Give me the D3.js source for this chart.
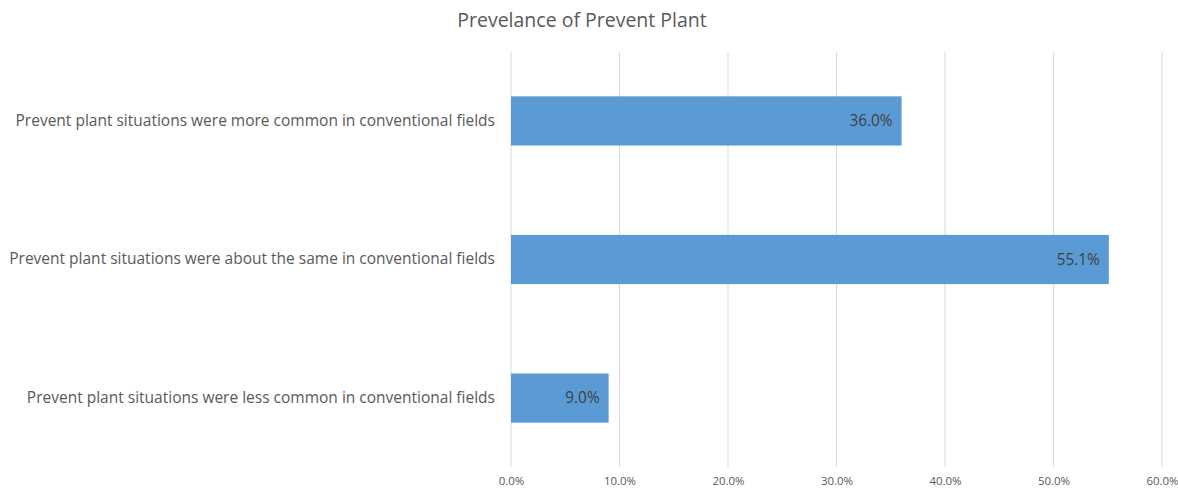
<!DOCTYPE html>
<html><head><meta charset="utf-8">
<script src="https://cdn.jsdelivr.net/npm/d3@7"></script>
<style>body{margin:0;background:#fff}svg{display:block}</style>
</head><body>
<svg id="c" width="1178" height="489"></svg>
<script>
const categories = [
  "Prevent plant situations were more common in conventional fields",
  "Prevent plant situations were about the same in conventional fields",
  "Prevent plant situations were less common in conventional fields"
];
const values = [36.0, 55.1, 9.0];
const tickValues = [0, 10, 20, 30, 40, 50, 60];
const title = "Prevelance of Prevent Plant";

const svg = d3.select("#c");
const font = "'Open Sans', sans-serif";
const m = {left: 511, right: 1162, top: 52, bottom: 467};
const x = d3.scaleLinear().domain([0, 60]).range([m.left, m.right]);
const y = d3.scaleBand().domain(categories).range([m.top, m.bottom]).paddingInner(0.645).paddingOuter(0.32);

svg.append("text").attr("x", 582).attr("y", 27).attr("text-anchor", "middle")
  .style("font-family", font).style("font-size", "19.5px").attr("fill", "#595959").text(title);

svg.append("g").selectAll("line").data(tickValues).join("line")
  .attr("x1", d => x(d)).attr("x2", d => x(d)).attr("y1", m.top).attr("y2", m.bottom)
  .attr("stroke", "#d9d9d9").attr("stroke-width", 1);

const xAxis = d3.axisBottom(x).tickValues(tickValues).tickFormat(d => d.toFixed(1) + "%").tickSize(0).tickPadding(0);
const gx = svg.append("g").attr("transform", `translate(0,${m.bottom + 10})`).call(xAxis);
gx.select(".domain").remove();
gx.selectAll("text").style("font-family", font).style("font-size", "11.5px").attr("fill", "#595959").attr("dy", "0.71em");

svg.append("g").selectAll("rect").data(values).join("rect")
  .attr("x", x(0)).attr("y", (d, i) => y(categories[i]))
  .attr("width", d => x(d) - x(0)).attr("height", y.bandwidth())
  .attr("fill", "#5b9bd5");

svg.append("g").selectAll("text").data(values).join("text")
  .attr("x", d => x(d) - 9).attr("y", (d, i) => y(categories[i]) + y.bandwidth() / 2)
  .attr("dy", "0.35em").attr("text-anchor", "end")
  .style("font-family", font).style("font-size", "15.4px").attr("fill", "#404040")
  .text(d => d.toFixed(1) + "%");

const yAxis = d3.axisLeft(y).tickSize(0).tickPadding(16);
const gy = svg.append("g").attr("transform", `translate(${m.left},0)`).call(yAxis);
gy.select(".domain").remove();
gy.selectAll("text").style("font-family", font).style("font-size", "15.5px").attr("fill", "#595959");
</script>
</body></html>
